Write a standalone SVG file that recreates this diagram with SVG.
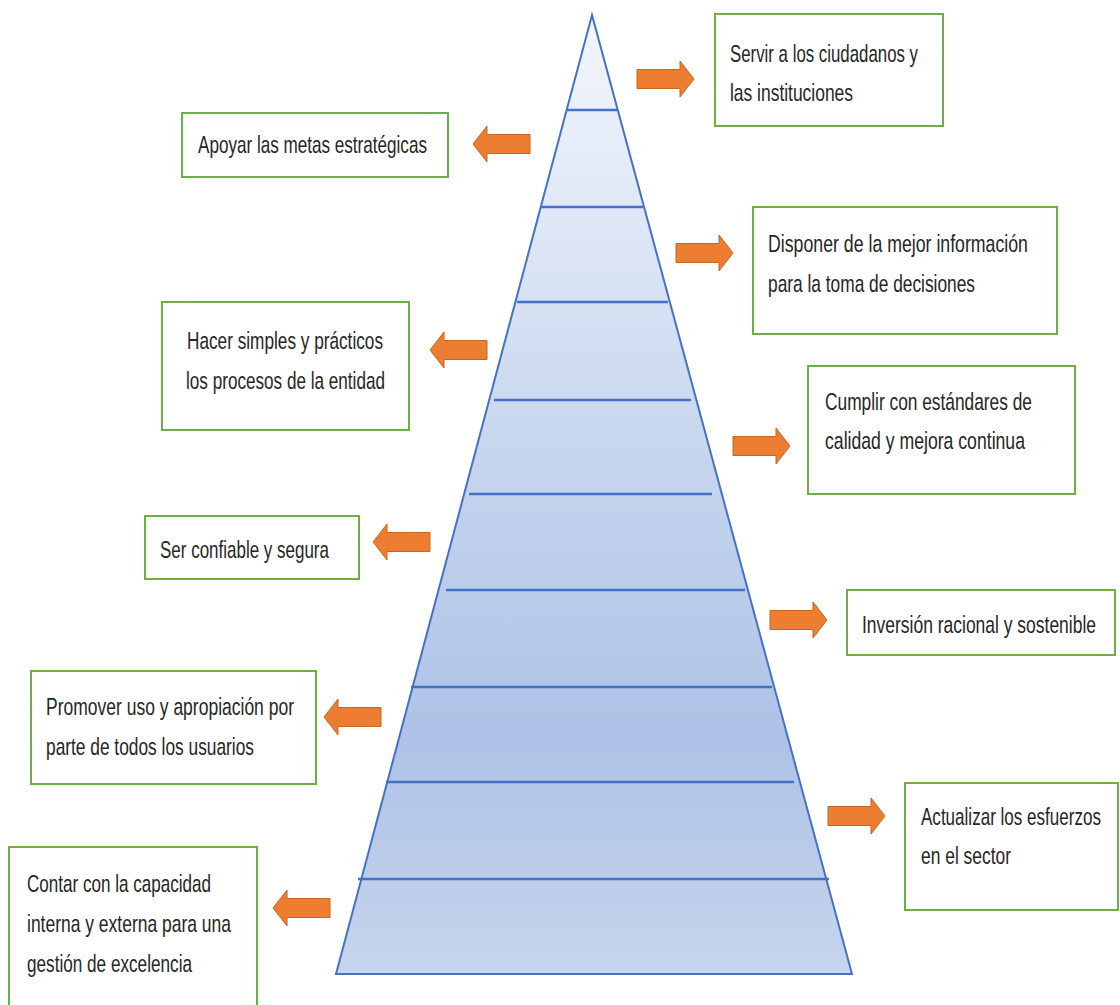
<svg xmlns="http://www.w3.org/2000/svg" width="1120" height="1005" viewBox="0 0 1120 1005">
<style>
.box{fill:#fff;stroke:#70AD47;stroke-width:2}
.t{font-family:"Liberation Sans",Arial,sans-serif;font-size:24px;fill:#262626}
.div{stroke:#4472C4;stroke-width:2.5}
.arr{fill:#ED7D31;stroke:#C9651F;stroke-width:1}
</style>
<defs>
<linearGradient id="pg" x1="0" y1="15" x2="0" y2="974" gradientUnits="userSpaceOnUse">
<stop offset="0" stop-color="#F3F6FC"/>
<stop offset="0.4" stop-color="#CCDAF0"/>
<stop offset="0.75" stop-color="#ADC2E6"/>
<stop offset="1" stop-color="#C7D5ED"/>
</linearGradient>
<path id="ar" d="M0,-9.5 H43 V-18 L57,0 L43,18 V9.5 H0 Z"/>
</defs>
<rect width="1120" height="1005" fill="#fff"/>
<g id="pyramid">
<path d="M592,15 L852,974 L336,974 Z" fill="url(#pg)" stroke="#4472C4" stroke-width="2"/>
<line class="div" x1="567" y1="110" x2="617" y2="110"/>
<line class="div" x1="541" y1="207" x2="643" y2="207"/>
<line class="div" x1="517" y1="302" x2="668" y2="302"/>
<line class="div" x1="494" y1="400" x2="691" y2="400"/>
<line class="div" x1="469" y1="494" x2="712" y2="494"/>
<line class="div" x1="446" y1="590" x2="745" y2="590"/>
<line class="div" x1="411" y1="687" x2="772" y2="687"/>
<line class="div" x1="386" y1="782" x2="794" y2="782"/>
<line class="div" x1="358" y1="879" x2="829" y2="879"/>
</g>
<g id="connectors">
<use href="#ar" class="arr" transform="translate(637,79)"/>
<use href="#ar" class="arr" transform="translate(530,144) scale(-1,1)"/>
<use href="#ar" class="arr" transform="translate(676,253)"/>
<use href="#ar" class="arr" transform="translate(487,350) scale(-1,1)"/>
<use href="#ar" class="arr" transform="translate(733,446)"/>
<use href="#ar" class="arr" transform="translate(430,542) scale(-1,1)"/>
<use href="#ar" class="arr" transform="translate(770,620)"/>
<use href="#ar" class="arr" transform="translate(381,717) scale(-1,1)"/>
<use href="#ar" class="arr" transform="translate(828,816)"/>
<use href="#ar" class="arr" transform="translate(330,908) scale(-1,1)"/>
</g>
<g id="n1">
<rect class="box" x="715" y="14" width="228" height="112"/>
<text class="t" transform="translate(730,62) scale(0.7,1)" textLength="268.6" lengthAdjust="spacingAndGlyphs">Servir a los ciudadanos y</text>
<text class="t" transform="translate(730,101) scale(0.7,1)" textLength="175.7" lengthAdjust="spacingAndGlyphs">las instituciones</text>
</g>
<g id="n2">
<rect class="box" x="182" y="113" width="266" height="64"/>
<text class="t" transform="translate(198,153) scale(0.7,1)" textLength="327.1" lengthAdjust="spacingAndGlyphs">Apoyar las metas estratégicas</text>
</g>
<g id="n3">
<rect class="box" x="753" y="207" width="304" height="127"/>
<text class="t" transform="translate(768,252) scale(0.7,1)" textLength="371.4" lengthAdjust="spacingAndGlyphs">Disponer de la mejor información</text>
<text class="t" transform="translate(768,292) scale(0.7,1)" textLength="295.7" lengthAdjust="spacingAndGlyphs">para la toma de decisiones</text>
</g>
<g id="n4">
<rect class="box" x="162" y="302" width="247" height="128"/>
<text class="t" transform="translate(187,349) scale(0.7,1)" textLength="280" lengthAdjust="spacingAndGlyphs">Hacer simples y prácticos</text>
<text class="t" transform="translate(186,389) scale(0.7,1)" textLength="284.3" lengthAdjust="spacingAndGlyphs">los procesos de la entidad</text>
</g>
<g id="n5">
<rect class="box" x="808" y="366" width="267" height="128"/>
<text class="t" transform="translate(825,410) scale(0.7,1)" textLength="295.7" lengthAdjust="spacingAndGlyphs">Cumplir con estándares de</text>
<text class="t" transform="translate(825,449) scale(0.7,1)" textLength="285.7" lengthAdjust="spacingAndGlyphs">calidad y mejora continua</text>
</g>
<g id="n6">
<rect class="box" x="145" y="516" width="214" height="63"/>
<text class="t" transform="translate(160,558) scale(0.7,1)" textLength="241.4" lengthAdjust="spacingAndGlyphs">Ser confiable y segura</text>
</g>
<g id="n7">
<rect class="box" x="847" y="590" width="268" height="65"/>
<text class="t" transform="translate(862,633) scale(0.7,1)" textLength="334.3" lengthAdjust="spacingAndGlyphs">Inversión racional y sostenible</text>
</g>
<g id="n8">
<rect class="box" x="31" y="671" width="285" height="113"/>
<text class="t" transform="translate(46,715) scale(0.7,1)" textLength="354.3" lengthAdjust="spacingAndGlyphs">Promover uso y apropiación por</text>
<text class="t" transform="translate(46,755) scale(0.7,1)" textLength="297.1" lengthAdjust="spacingAndGlyphs">parte de todos los usuarios</text>
</g>
<g id="n9">
<rect class="box" x="905" y="783" width="213" height="127"/>
<text class="t" transform="translate(921,825) scale(0.7,1)" textLength="257.1" lengthAdjust="spacingAndGlyphs">Actualizar los esfuerzos</text>
<text class="t" transform="translate(921,864) scale(0.7,1)" textLength="128.6" lengthAdjust="spacingAndGlyphs">en el sector</text>
</g>
<g id="n10">
<rect class="box" x="9" y="847" width="248" height="170"/>
<text class="t" transform="translate(27,892) scale(0.7,1)" textLength="262.9" lengthAdjust="spacingAndGlyphs">Contar con la capacidad</text>
<text class="t" transform="translate(27,932) scale(0.7,1)" textLength="291.4" lengthAdjust="spacingAndGlyphs">interna y externa para una</text>
<text class="t" transform="translate(27,972) scale(0.7,1)" textLength="235.7" lengthAdjust="spacingAndGlyphs">gestión de excelencia</text>
</g>
</svg>
